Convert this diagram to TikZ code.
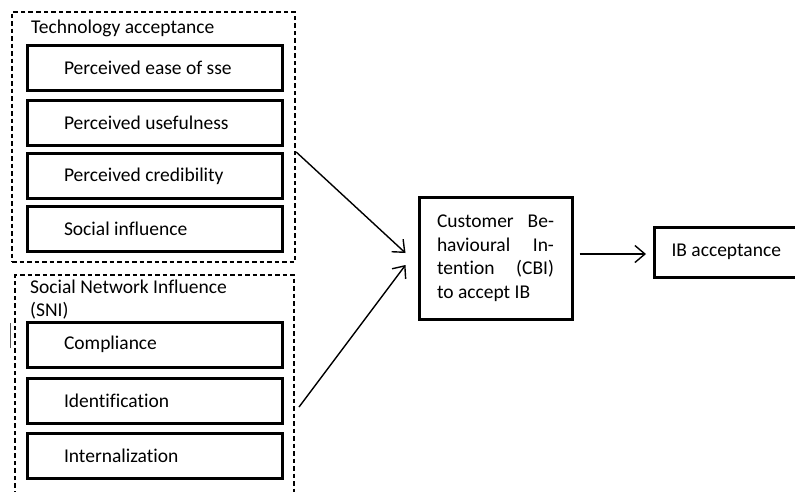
\documentclass[tikz,border=0pt]{standalone}
\usepackage{fontspec}
\setmainfont{Carlito}[Ligatures=NoCommon]
\usetikzlibrary{arrows.meta,calc}
\newcommand{\inlab}[1]{\makebox[181pt][l]{#1}}
\newcommand{\jline}[1]{\makebox[117pt][s]{#1}}
\begin{document}
\begin{tikzpicture}[x=1pt,y=-1pt,
  every node/.style={font=\fontsize{19.5}{23.5}\selectfont},
  dashbox/.style={draw, line width=1.4pt, dash pattern=on 4.5pt off 3pt},
  inbox/.style={draw, line width=3pt, minimum width=255pt, minimum height=45pt,
    inner xsep=37pt, inner ysep=0pt},
  title/.style={anchor=base west, inner sep=0pt, align=left},
  arr/.style={line width=1.4pt, -{Straight Barb[length=10pt,width=17pt,line width=1.4pt]}}
  ]
\useasboundingbox (0,0) rectangle (795,491);
\clip (0,0) rectangle (795,491);
\fill[white] (0,0) rectangle (795,491);

% top group
\node[dashbox, minimum width=283pt, minimum height=250pt, inner sep=0pt] (ta) at (153.5,137) {};
\node[title] (tat) at (31,33.5) {Technology acceptance};
\node[inbox] (p1) at (154.5,67.5) {\inlab{Perceived ease of sse}};
\node[inbox] (p2) at (154.5,123) {\inlab{Perceived usefulness}};
\node[inbox] (p3) at (154.5,176) {\inlab{Perceived credibility}};
\node[inbox] (p4) at (154.5,229) {\inlab{Social influence}};

% bottom group (open at the bottom)
\coordinate (sbl) at (15,495);
\coordinate (stl) at (15,275);
\coordinate (str) at (294,275);
\coordinate (sbr) at (294,495);
\draw[dashbox] (sbl) -- (stl) -- (str) -- (sbr);
\node[title] (snt) at (30,316.5) {Social Network Influence\\(SNI)};
\node[inbox] (s1) at (154.5,344.5) {\inlab{Compliance}};
\node[inbox] (s2) at (154.5,400.5) {\inlab{Identification}};
\node[inbox] (s3) at (154.5,455.5) {\inlab{Internalization}};

% stray mark
\coordinate (m1) at (10,323);
\coordinate (m2) at (10,348);
\draw[gray!70!black, line width=0.9pt] (m1) -- (m2);

% CBI
\node[draw, line width=3pt, minimum width=153pt, minimum height=122pt,
  align=left, inner sep=0pt] (cbi) at (495.5,258)
  {\jline{Customer\hfill Be-}\\\jline{havioural\hfill In-}\\\jline{tention\hfill (CBI)}\\\makebox[117pt][l]{to accept IB}};

% IB acceptance
\node[draw, line width=3pt, minimum height=50pt, inner xsep=17pt, inner ysep=0pt,
  anchor=west] (ib) at (653,252) {\makebox[150pt][l]{IB acceptance}};

% connectors
\coordinate (a1s) at ($(ta.east)+(0.5,15)$);
\coordinate (a1e) at ($(cbi.west)+(-12,-5)$);
\coordinate (a2s) at (299,407);
\coordinate (a2e) at ($(cbi.west)+(-12,7)$);
\coordinate (a3s) at ($(cbi.east)+(6,-4)$);
\coordinate (a3e) at ($(ib.west)+(-7,2)$);
\draw[arr] (a1s) -- (a1e);
\draw[arr] (a2s) -- (a2e);
\draw[arr] (a3s) -- (a3e);
\end{tikzpicture}
\end{document}
